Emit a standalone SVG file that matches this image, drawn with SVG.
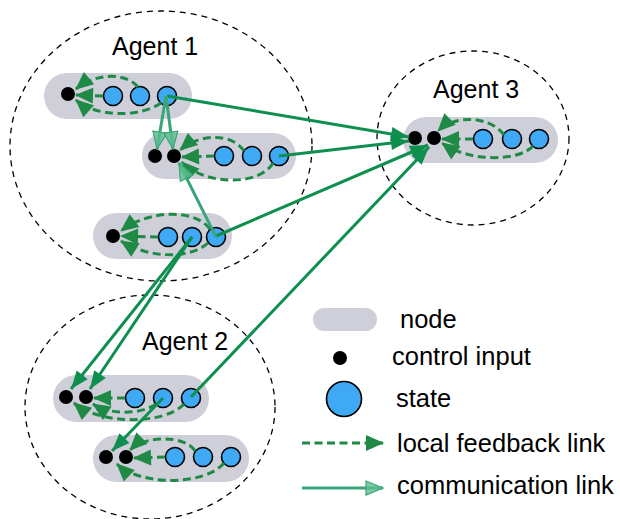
<svg xmlns="http://www.w3.org/2000/svg" width="620" height="519" viewBox="0 0 620 519">
<defs>
<style>
.agent{fill:none;stroke:#000;stroke-width:1.3;stroke-dasharray:6,5}
.pill{fill:#cfcfd9}
.ctrl{fill:#000}
.state{fill:#3fa9f5;stroke:#000;stroke-width:1.6}
.lbl{font-family:"Liberation Sans",Arial,sans-serif;font-size:25px;fill:#000}
.leg{font-family:"Liberation Sans",Arial,sans-serif;font-size:25.5px;fill:#000}
.fb{fill:none;stroke:#1f8a45;stroke-width:3;stroke-dasharray:8,4.5;marker-end:url(#fbArrow)}
.comm{fill:none;stroke:#0f8f4f;stroke-width:3;marker-end:url(#commArrow)}
.intra{fill:none;stroke:#3aa57a;stroke-width:3;marker-end:url(#intraArrow)}
</style>
<marker id="fbArrow" markerUnits="userSpaceOnUse" markerWidth="19" markerHeight="17" refX="17" refY="8" orient="auto" overflow="visible">
<path d="M0,0 L18,8 L0,16 z" fill="#1f8a45"/>
</marker>
<marker id="commArrow" markerUnits="userSpaceOnUse" markerWidth="19" markerHeight="15" refX="18" refY="7" orient="auto" overflow="visible">
<path d="M0,0 L18,7 L0,14 z" fill="#0f8f4f"/>
</marker>
<marker id="intraArrow" markerUnits="userSpaceOnUse" markerWidth="19" markerHeight="15" refX="17" refY="7" orient="auto" overflow="visible">
<path d="M0,0 L17,7 L0,14 z" fill="#5cbf8f" fill-opacity="0.8" stroke="#3aa57a" stroke-width="1.2"/>
</marker>
</defs>

<g id="agents">
<ellipse class="agent" cx="161" cy="146" rx="151" ry="135"/>
<ellipse class="agent" cx="473" cy="138" rx="96" ry="87"/>
<ellipse class="agent" cx="150" cy="407" rx="125" ry="112"/>
<text class="lbl" x="112" y="55">Agent 1</text>
<text class="lbl" x="433" y="98">Agent 3</text>
<text class="lbl" x="142" y="350">Agent 2</text>
</g>

<g id="node-a1-1">
<rect class="pill" x="44" y="73" width="148" height="46" rx="23"/>
<circle class="ctrl" cx="68" cy="94" r="7"/>
<circle class="state" cx="113" cy="96" r="9.5"/>
<circle class="state" cx="140" cy="96" r="9.5"/>
<circle class="state" cx="167" cy="96" r="9.5"/>
</g>
<g id="node-a1-2">
<rect class="pill" x="142" y="133" width="154" height="46" rx="23"/>
<circle class="ctrl" cx="155" cy="156" r="7"/>
<circle class="ctrl" cx="174" cy="156" r="7"/>
<circle class="state" cx="224" cy="156" r="9.5"/>
<circle class="state" cx="252" cy="156" r="9.5"/>
<circle class="state" cx="279" cy="156" r="9.5"/>
</g>
<g id="node-a1-3">
<rect class="pill" x="93" y="213" width="139" height="46" rx="23"/>
<circle class="ctrl" cx="113" cy="236" r="7"/>
<circle class="state" cx="168" cy="237" r="9.5"/>
<circle class="state" cx="192" cy="237" r="9.5"/>
<circle class="state" cx="216" cy="237" r="9.5"/>
</g>
<g id="node-a3-1">
<rect class="pill" x="403" y="117" width="155" height="46" rx="23"/>
<circle class="ctrl" cx="415" cy="138" r="7"/>
<circle class="ctrl" cx="434" cy="138" r="7"/>
<circle class="state" cx="483" cy="139" r="9.5"/>
<circle class="state" cx="512" cy="139" r="9.5"/>
<circle class="state" cx="539" cy="139" r="9.5"/>
</g>
<g id="node-a2-1">
<rect class="pill" x="53" y="375" width="156" height="47" rx="23.5"/>
<circle class="ctrl" cx="66" cy="397" r="7"/>
<circle class="ctrl" cx="86" cy="397" r="7"/>
<circle class="state" cx="135" cy="398" r="9.5"/>
<circle class="state" cx="163" cy="398" r="9.5"/>
<circle class="state" cx="191" cy="398" r="9.5"/>
</g>
<g id="node-a2-2">
<rect class="pill" x="93" y="435" width="156" height="47" rx="23.5"/>
<circle class="ctrl" cx="106" cy="457" r="7"/>
<circle class="ctrl" cx="126" cy="457" r="7"/>
<circle class="state" cx="175" cy="457" r="9.5"/>
<circle class="state" cx="203" cy="457" r="9.5"/>
<circle class="state" cx="231" cy="457" r="9.5"/>
</g>

<g id="connectors">
<!-- local feedback links -->
<path class="fb" d="M103,96 L76,95"/>
<path class="fb" d="M138,87 C125,72 95,73 76,89"/>
<path class="fb" d="M161,103 C140,118 95,117 76,100"/>

<path class="fb" d="M214,156 L182,157"/>
<path class="fb" d="M244,151 C232,133 200,133 180,150"/>
<path class="fb" d="M273,163 C260,186 205,186 182,162"/>

<path class="fb" d="M158,237 L121,236"/>
<path class="fb" d="M210,229 C195,209 150,209 121,231"/>
<path class="fb" d="M208,243 C190,259 150,259 121,241"/>

<path class="fb" d="M473,139 L442,139"/>
<path class="fb" d="M504,135 C490,116 455,114 438,131"/>
<path class="fb" d="M533,146 C520,161 470,163 442,143"/>

<path class="fb" d="M125,398 L94,398"/>
<path class="fb" d="M156,404 C140,415 110,415 93,404"/>
<path class="fb" d="M184,404 C165,425 100,425 74,403"/>

<path class="fb" d="M165,457 L134,458"/>
<path class="fb" d="M195,451 C185,435 145,435 130,450"/>
<path class="fb" d="M224,463 C205,486 140,486 117,464"/>

<!-- communication links -->
<path class="comm" d="M167,96 L409,137"/>
<path class="comm" d="M279,156 L409,141"/>
<path class="comm" d="M216,236 L428,145"/>
<path class="comm" d="M191,397 L429,147"/>
<path class="comm" d="M192,237 L71,389"/>
<path class="comm" d="M192,237 L90,389"/>
<path class="comm" d="M163,398 L112,451"/>

<path class="intra" d="M166,96 L157,149"/>
<path class="intra" d="M166,96 L173,149"/>
<path class="intra" d="M216,237 L179,163"/>
</g>

<g id="legend">
<rect class="pill" x="313" y="308" width="64" height="23" rx="11.5"/>
<text class="leg" x="400" y="328">node</text>
<circle class="ctrl" cx="340" cy="358" r="7"/>
<text class="leg" x="392" y="365">control input</text>
<circle class="state" cx="344" cy="399" r="17.5"/>
<text class="leg" x="396" y="407">state</text>
<path class="fb" d="M302,443 L383,443"/>
<text class="leg" x="397" y="452">local feedback link</text>
<path class="intra" d="M302,488 L383,488"/>
<text class="leg" x="397" y="494">communication link</text>
</g>
</svg>
